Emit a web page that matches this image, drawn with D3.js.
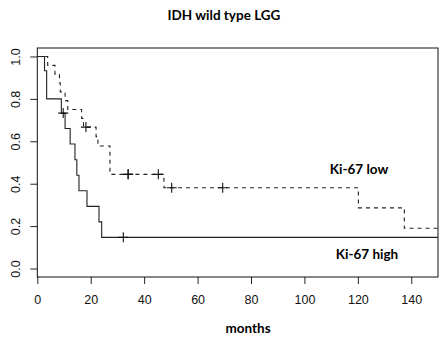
<!DOCTYPE html>
<html>
<head>
<meta charset="utf-8">
<script src="https://cdn.jsdelivr.net/npm/d3@7"></script>
<style>
  body { margin: 0; background: #fff; }
  svg { display: block; }
</style>
</head>
<body>
<script>
// Kaplan-Meier steps
const highTimes = [0, 2.7, 3.5, 9.0, 10.4, 12.3, 14.1, 14.8, 15.6, 18.6, 23.1, 24.1];
const highSurv  = [1.0, 0.933, 0.8, 0.733, 0.66, 0.587, 0.513, 0.44, 0.367, 0.293, 0.22, 0.147];
const highCensorTimes = [9.7, 32.2];
const highCensorSurv  = [0.733, 0.147];

const lowTimes = [0, 3.9, 6.6, 8.3, 8.6, 10.4, 11.4, 16.6, 17.3, 22.0, 22.7, 27.2, 47.4, 120.2, 137.4];
const lowSurv  = [1.0, 0.958, 0.917, 0.875, 0.833, 0.792, 0.75, 0.708, 0.667, 0.622, 0.578, 0.444, 0.381, 0.286, 0.19];
const lowCensorTimes = [18.2, 34, 34, 45.3, 50.3, 69.4];
const lowCensorSurv  = [0.667, 0.444, 0.444, 0.444, 0.381, 0.381];

const xTicks = [0, 20, 40, 60, 80, 100, 120, 140];
const yTicks = [0, 0.2, 0.4, 0.6, 0.8, 1.0];
const END_TIME = 150;

const WIDTH = 447;
const HEIGHT = 339;
const LEFT = 37.3, RIGHT = 438, TOP = 48, BOTTOM = 277;

const svg = d3.select("body")
  .append("svg")
  .attr("width", WIDTH)
  .attr("height", HEIGHT);

const xScale = d3.scaleLinear().domain([0, 150]).range([LEFT, RIGHT]);
const yScale = d3.scaleLinear().domain([-0.04, 1.04]).range([BOTTOM, TOP]);

// title
svg.append("text")
  .attr("x", 224)
  .attr("y", 20)
  .attr("text-anchor", "middle")
  .style("font-family", "Lato, 'Open Sans', sans-serif")
  .style("font-weight", "bold")
  .style("font-size", "13.5px")
  .text("IDH wild type LGG");

// axes
const xAxis = d3.axisBottom(xScale).tickValues(xTicks).tickSize(7).tickPadding(11);
const yAxis = d3.axisLeft(yScale).tickValues(yTicks).tickSize(7).tickFormat(d3.format(".1f"));

const gx = svg.append("g")
  .attr("transform", "translate(0," + BOTTOM + ")")
  .call(xAxis);
gx.select(".domain").remove();
gx.selectAll("text")
  .style("font-family", "'Liberation Sans', Arial, sans-serif")
  .style("font-size", "12.5px")
  .attr("fill", "#111");

const gy = svg.append("g")
  .attr("transform", "translate(" + LEFT + ",0)")
  .call(yAxis);
gy.select(".domain").remove();
gy.selectAll(".tick text")
  .style("font-family", "'Liberation Sans', Arial, sans-serif")
  .style("font-size", "12.5px")
  .attr("fill", "#111")
  .attr("text-anchor", "middle")
  .attr("x", null)
  .attr("dy", null)
  .attr("transform", "translate(-21,0) rotate(-90)")
  .attr("dominant-baseline", "central");

svg.selectAll(".tick line").attr("stroke", "#222");

// plot box
svg.append("rect")
  .attr("x", LEFT)
  .attr("y", TOP)
  .attr("width", RIGHT - LEFT)
  .attr("height", BOTTOM - TOP)
  .attr("fill", "none")
  .attr("stroke", "#111")
  .attr("stroke-width", 1);

// curves
const line = d3.line()
  .x(d => xScale(d[0]))
  .y(d => yScale(d[1]))
  .curve(d3.curveStepAfter);

const toSteps = (times, surv) => {
  const pts = times.map((t, i) => [t, surv[i]]);
  pts.push([END_TIME, surv[surv.length - 1]]);
  return pts;
};

svg.append("path")
  .attr("d", line(toSteps(highTimes, highSurv)))
  .attr("fill", "none")
  .attr("stroke", "#222")
  .attr("stroke-width", 1.1);

svg.append("path")
  .attr("d", line(toSteps(lowTimes, lowSurv)))
  .attr("fill", "none")
  .attr("stroke", "#222")
  .attr("stroke-width", 1.1)
  .attr("stroke-dasharray", "4,4");

// censor marks
const drawCensor = (times, surv) => {
  const g = svg.append("g");
  times.forEach((t, i) => {
    const cx = xScale(t), cy = yScale(surv[i]);
    g.append("path")
      .attr("d", `M${cx - 5},${cy}H${cx + 5}M${cx},${cy - 5}V${cy + 5}`)
      .attr("stroke", "#111")
      .attr("stroke-width", 1.1)
      .attr("fill", "none");
  });
};
drawCensor(highCensorTimes, highCensorSurv);
drawCensor(lowCensorTimes, lowCensorSurv);

// labels
const labelFont = sel => sel
  .style("font-family", "Lato, 'Open Sans', sans-serif")
  .style("font-weight", "bold")
  .style("font-size", "13.5px")
  .attr("text-anchor", "middle");

svg.append("text").attr("x", 359).attr("y", 174).call(labelFont).text("Ki-67 low");
svg.append("text").attr("x", 367).attr("y", 259).call(labelFont).text("Ki-67 high");
svg.append("text").attr("x", 248).attr("y", 333).call(labelFont).text("months");
</script>
</body>
</html>
